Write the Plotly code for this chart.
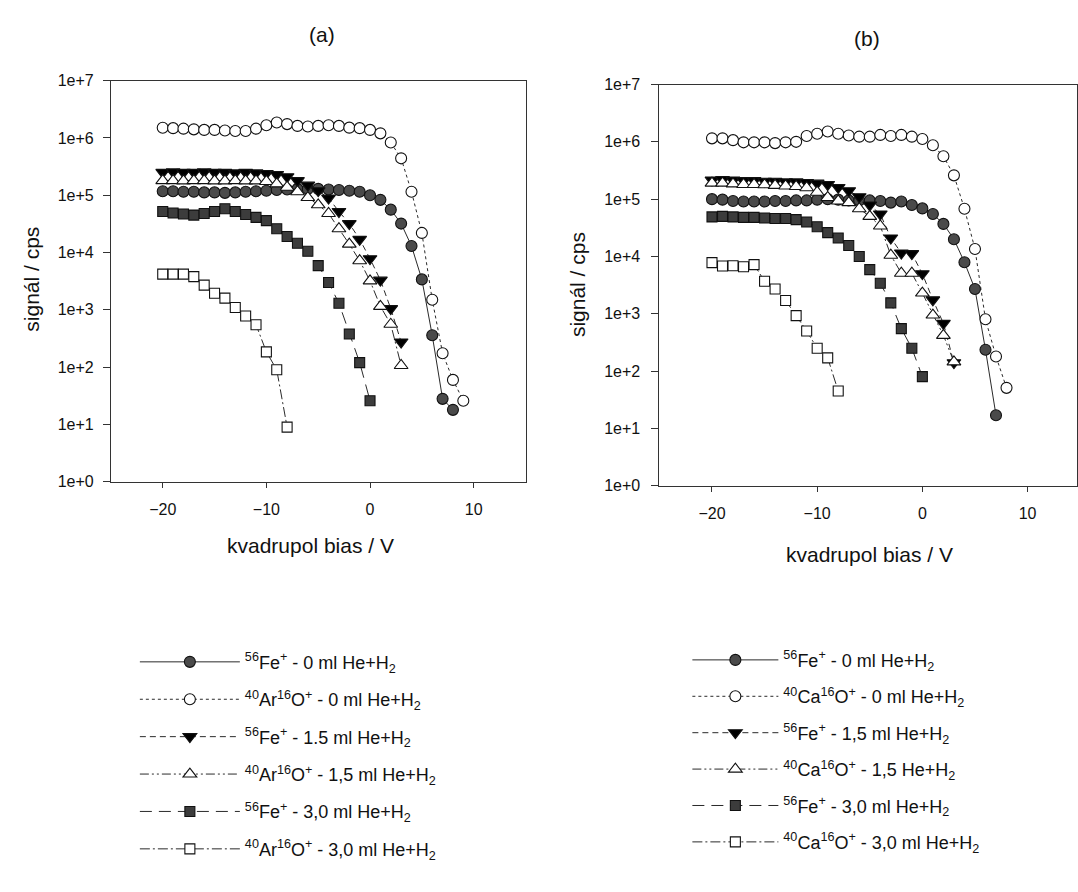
import plotly.graph_objects as go

# ---------------- data: panel (a) ----------------
a_fe0_x = [-20,-19,-18,-17,-16,-15,-14,-13,-12,-11,-10,-9,-8,-7,-6,-5,-4,-3,-2,-1,0,1,2,3,4,5,6,7,8]
a_fe0_y = [1.17e5,1.17e5,1.15e5,1.15e5,1.12e5,1.12e5,1.1e5,1.12e5,1.15e5,1.17e5,1.2e5,1.23e5,1.26e5,1.29e5,
           1.29e5,1.29e5,1.26e5,1.23e5,1.2e5,1.15e5,1.0e5,8.3e4,5.6e4,3.2e4,1.3e4,3.4e3,360,28,18]

a_aro0_x = [-20,-19,-18,-17,-16,-15,-14,-13,-12,-11,-10,-9,-8,-7,-6,-5,-4,-3,-2,-1,0,1,2,3,4,5,6,7,8,9]
a_aro0_y = [1.5e6,1.48e6,1.45e6,1.41e6,1.38e6,1.38e6,1.35e6,1.32e6,1.32e6,1.45e6,1.66e6,1.86e6,1.74e6,1.62e6,
            1.58e6,1.62e6,1.66e6,1.62e6,1.51e6,1.48e6,1.38e6,1.2e6,8.3e5,4.4e5,1.15e5,2.2e4,1.5e3,175,60,26]

a_fe15_x = [-20,-19,-18,-17,-16,-15,-14,-13,-12,-11,-10,-9,-8,-7,-6,-5,-4,-3,-2,-1,0,1,2,3]
a_fe15_y = [2.5e5,2.55e5,2.5e5,2.5e5,2.55e5,2.5e5,2.5e5,2.45e5,2.5e5,2.45e5,2.4e5,2.3e5,2.1e5,1.8e5,1.5e5,
            1.2e5,8.9e4,5.2e4,3.2e4,1.7e4,7.8e3,3.3e3,1.05e3,275]

a_aro15_x = [-20,-19,-18,-17,-16,-15,-14,-13,-12,-11,-10,-9,-8,-7,-6,-5,-4,-3,-2,-1,0,1,2,3]
a_aro15_y = [1.8e5,1.8e5,1.78e5,1.8e5,1.8e5,1.78e5,1.78e5,1.8e5,1.78e5,1.78e5,1.74e5,1.58e5,1.38e5,1.15e5,
             9.1e4,6.8e4,4.8e4,2.6e4,1.4e4,7.2e3,3.2e3,1.15e3,560,107]

a_fe30_x = [-20,-19,-18,-17,-16,-15,-14,-13,-12,-11,-10,-9,-8,-7,-6,-5,-4,-3,-2,-1,0]
a_fe30_y = [5.2e4,4.9e4,4.7e4,4.5e4,4.8e4,5.2e4,5.8e4,5.2e4,4.6e4,4.1e4,3.6e4,2.6e4,1.9e4,1.45e4,1.05e4,
            5.9e3,3.0e3,1.3e3,380,120,26]

a_aro30_x = [-20,-19,-18,-17,-16,-15,-14,-13,-12,-11,-10,-9,-8]
a_aro30_y = [4.2e3,4.2e3,4.2e3,3.8e3,2.7e3,1.95e3,1.6e3,1.1e3,780,550,185,90,9]

# ---------------- data: panel (b) ----------------
b_fe0_x = [-20,-19,-18,-17,-16,-15,-14,-13,-12,-11,-10,-9,-8,-7,-6,-5,-4,-3,-2,-1,0,1,2,3,4,5,6,7]
b_fe0_y = [1.0e5,9.8e4,9.3e4,9.1e4,9.1e4,9.1e4,9.3e4,9.3e4,9.5e4,9.5e4,9.8e4,1.0e5,9.8e4,9.5e4,9.5e4,9.5e4,
           9.3e4,8.7e4,9.1e4,7.9e4,6.9e4,5.5e4,3.7e4,2.0e4,7.9e3,2.7e3,235,17]

b_cao0_x = [-20,-19,-18,-17,-16,-15,-14,-13,-12,-11,-10,-9,-8,-7,-6,-5,-4,-3,-2,-1,0,1,2,3,4,5,6,7,8]
b_cao0_y = [1.15e6,1.15e6,1.07e6,9.8e5,9.8e5,9.8e5,9.5e5,9.8e5,1.0e6,1.26e6,1.38e6,1.51e6,1.38e6,1.29e6,
            1.23e6,1.23e6,1.32e6,1.26e6,1.32e6,1.23e6,1.12e6,8.7e5,5.6e5,2.6e5,6.8e4,1.35e4,800,180,51]

b_fe15_x = [-20,-19,-18,-17,-16,-15,-14,-13,-12,-11,-10,-9,-8,-7,-6,-5,-4,-3,-2,-1,0,1,2,3]
b_fe15_y = [2.15e5,2.2e5,2.15e5,2.1e5,2.1e5,2.05e5,2.05e5,2.0e5,2.0e5,1.95e5,1.9e5,1.8e5,1.6e5,1.4e5,1.1e5,
            7.9e4,5.5e4,2.1e4,1.15e4,1.12e4,5.0e3,1.75e3,680,140]

b_cao15_x = [-20,-19,-18,-17,-16,-15,-14,-13,-12,-11,-10,-9,-8,-7,-6,-5,-4,-3,-2,-1,0,1,2,3]
b_cao15_y = [1.9e5,1.9e5,1.85e5,1.8e5,1.8e5,1.78e5,1.74e5,1.7e5,1.66e5,1.58e5,1.32e5,1.07e5,9.3e4,8.7e4,
             6.8e4,5.0e4,3.4e4,1.05e4,5.1e3,5.1e3,2.3e3,950,420,145]

b_fe30_x = [-20,-19,-18,-17,-16,-15,-14,-13,-12,-11,-10,-9,-8,-7,-6,-5,-4,-3,-2,-1,0]
b_fe30_y = [4.9e4,5.0e4,4.9e4,4.8e4,4.8e4,4.7e4,4.6e4,4.6e4,4.4e4,4.0e4,3.3e4,2.6e4,2.1e4,1.55e4,1.0e4,
            5.9e3,3.4e3,1.55e3,550,250,80]

b_cao30_x = [-20,-19,-18,-17,-16,-15,-14,-13,-12,-11,-10,-9,-8]
b_cao30_y = [7.8e3,6.8e3,6.9e3,6.6e3,7.2e3,3.7e3,2.7e3,1.7e3,930,500,250,170,45]

ytick_vals = [1, 10, 100, 1e3, 1e4, 1e5, 1e6, 1e7]
ytick_text = ["1e+0", "1e+1", "1e+2", "1e+3", "1e+4", "1e+5", "1e+6", "1e+7"]
xtick_vals = [-20, -10, 0, 10]

names_a = [
    "<sup>56</sup>Fe<sup>+</sup> - 0 ml He+H<sub>2</sub>",
    "<sup>40</sup>Ar<sup>16</sup>O<sup>+</sup> - 0 ml He+H<sub>2</sub>",
    "<sup>56</sup>Fe<sup>+</sup> - 1.5 ml He+H<sub>2</sub>",
    "<sup>40</sup>Ar<sup>16</sup>O<sup>+</sup> - 1,5 ml He+H<sub>2</sub>",
    "<sup>56</sup>Fe<sup>+</sup> - 3,0 ml He+H<sub>2</sub>",
    "<sup>40</sup>Ar<sup>16</sup>O<sup>+</sup> - 3,0 ml He+H<sub>2</sub>",
]
names_b = [
    "<sup>56</sup>Fe<sup>+</sup> - 0 ml He+H<sub>2</sub>",
    "<sup>40</sup>Ca<sup>16</sup>O<sup>+</sup> - 0 ml He+H<sub>2</sub>",
    "<sup>56</sup>Fe<sup>+</sup> - 1,5 ml He+H<sub>2</sub>",
    "<sup>40</sup>Ca<sup>16</sup>O<sup>+</sup> - 1,5 He+H<sub>2</sub>",
    "<sup>56</sup>Fe<sup>+</sup> - 3,0 ml He+H<sub>2</sub>",
    "<sup>40</sup>Ca<sup>16</sup>O<sup>+</sup> - 3,0 ml He+H<sub>2</sub>",
]

# styles: (dash, symbol, marker fill, size)
styles = [
    ("solid", "circle", "#4a4a4a", 11),
    ("dot", "circle", "#ffffff", 11),
    ("6px,4px", "triangle-down", "#000000", 12),
    ("9px,3px,2px,3px,2px,3px", "triangle-up", "#ffffff", 12),
    ("12px,7px", "square", "#3c3c3c", 10),
    ("10px,3px,2px,3px", "square", "#ffffff", 10),
]

FONT = "Liberation Sans, Arial, sans-serif"
fig = go.Figure()

panel_a = [(a_fe0_x, a_fe0_y), (a_aro0_x, a_aro0_y), (a_fe15_x, a_fe15_y),
           (a_aro15_x, a_aro15_y), (a_fe30_x, a_fe30_y), (a_aro30_x, a_aro30_y)]
panel_b = [(b_fe0_x, b_fe0_y), (b_cao0_x, b_cao0_y), (b_fe15_x, b_fe15_y),
           (b_cao15_x, b_cao15_y), (b_fe30_x, b_fe30_y), (b_cao30_x, b_cao30_y)]

def add_panel(data, names, xa, ya, leg, prefix):
    for i, ((xs, ys), nm, st) in enumerate(zip(data, names, styles)):
        dash, sym, fill, size = st
        fig.add_trace(go.Scatter(
            x=xs, y=ys, name=nm, mode="lines+markers",
            xaxis=xa, yaxis=ya, legend=leg, legendgroup=prefix + str(i),
            line=dict(color="#2a2a2a", width=1, dash=dash),
            marker=dict(symbol=sym, size=size, color=fill,
                        line=dict(color="#111111", width=1.1)),
        ))

add_panel(panel_a, names_a, "x", "y", "legend", "a")
add_panel(panel_b, names_b, "x2", "y2", "legend2", "b")

axis_common = dict(showline=True, linecolor="#333333", linewidth=1, mirror=True,
                   showgrid=False, zeroline=False, ticks="outside",
                   tickcolor="#333333", tickfont=dict(family=FONT, size=16, color="#111111"))

fig.update_layout(
    width=1078, height=892,
    margin=dict(l=0, r=0, t=0, b=0),
    paper_bgcolor="white", plot_bgcolor="white",
    font=dict(family=FONT, color="#111111"),
    xaxis=dict(domain=[111/1078, 526/1078], range=[-25, 15], tickvals=xtick_vals,
               ticklen=5, ticklabelstandoff=8, anchor="y", **axis_common),
    yaxis=dict(domain=[1-483/892, 1-74/892], type="log", range=[0, 7],
               tickvals=ytick_vals, ticktext=ytick_text, ticklen=7, ticklabelstandoff=6,
               anchor="x", **axis_common),
    xaxis2=dict(domain=[660/1078, 1.0], range=[-25, 14.7], tickvals=xtick_vals,
                ticklen=5, ticklabelstandoff=8, anchor="y2", **axis_common),
    yaxis2=dict(domain=[1-487/892, 1-78/892], type="log", range=[0, 7],
                tickvals=ytick_vals, ticktext=ytick_text, ticklen=7, ticklabelstandoff=8,
                anchor="x2", **axis_common),
    legend=dict(x=135/1078, y=1-648/892, xanchor="left", yanchor="top",
                font=dict(family=FONT, size=18, color="#111111"),
                itemwidth=100, tracegroupgap=11, bgcolor="rgba(0,0,0,0)"),
    legend2=dict(x=688/1078, y=1-646/892, xanchor="left", yanchor="top",
                 font=dict(family=FONT, size=18, color="#111111"),
                 itemwidth=86, tracegroupgap=10, bgcolor="rgba(0,0,0,0)"),
    showlegend=True,
)

ann = [
    dict(text="(a)", x=322/1078, y=1-27/892, size=21),
    dict(text="(b)", x=868/1078, y=1-31/892, size=21),
    dict(text="kvadrupol bias / V", x=311/1078, y=1-548/892, size=21),
    dict(text="kvadrupol bias / V", x=870/1078, y=1-557/892, size=21),
]
for a in ann:
    fig.add_annotation(xref="paper", yref="paper", showarrow=False,
                       xanchor="center", yanchor="middle", text=a["text"],
                       x=a["x"], y=a["y"],
                       font=dict(family=FONT, size=a["size"], color="#111111"))
for (xx, yy) in [(32, 276), (578, 282)]:
    fig.add_annotation(xref="paper", yref="paper", showarrow=False, textangle=-90,
                       x=xx/1078, y=1-yy/892, xanchor="center", yanchor="middle",
                       text="signál / cps", font=dict(family=FONT, size=21, color="#111111"))

fig.write_html("out.html")
